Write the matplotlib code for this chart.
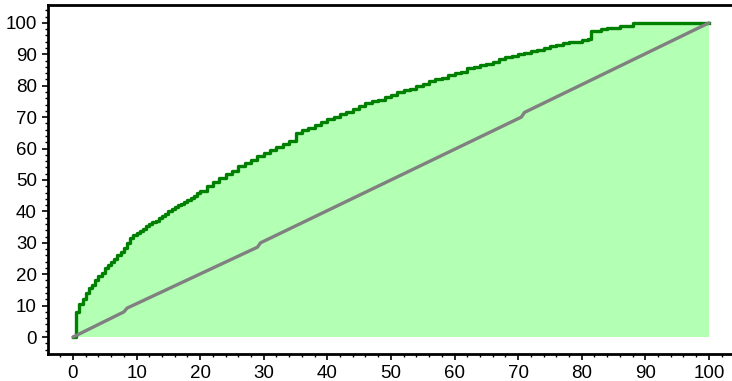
import numpy as np
import matplotlib
matplotlib.use("Agg")
import matplotlib.pyplot as plt
from matplotlib.ticker import MultipleLocator

# kumulatiivinen osuus (%), luettu kuvasta
osuus_x = [0, 0.5, 1, 1.5, 2, 2.5, 3, 3.5, 4, 4.5, 5, 5.5, 6, 6.5, 7, 7.5, 8, 8.5, 9, 9.5,
           10, 10.5, 11, 11.5, 12, 12.5, 13, 13.5, 14, 14.5, 15, 15.5, 16, 16.5, 17, 17.5, 18, 18.5, 19, 19.5,
           20, 21, 22, 23, 24, 25, 26, 27, 28, 29, 30, 31, 32, 33, 34, 35, 36, 37, 38, 39,
           40, 41, 42, 43, 44, 45, 46, 47, 48, 49, 50, 51, 52, 53, 54, 55, 56, 57, 58, 59,
           60, 61, 62, 63, 64, 65, 66, 67, 68, 69, 70, 71, 72, 73, 74, 75, 76, 77, 78, 79,
           80, 81, 81.5, 83, 84, 86, 88, 100]
osuus_y = [0, 8, 10.5, 12, 14, 15.5, 16.5, 18, 19.5, 20.5, 22, 23, 24, 25, 26, 27, 28.5, 30, 31.5, 32.5,
           33, 33.8, 34.5, 35.3, 36, 36.5, 37, 37.8, 38.5, 39.2, 40, 40.8, 41.5, 42, 42.5, 43, 43.5, 44.2, 45, 45.8,
           46.5, 48, 49.5, 50.5, 52, 53, 54.5, 55.5, 56.5, 57.5, 58.5, 59.5, 60.5, 61.5, 62.5, 65, 66, 66.5, 67.5, 68.5,
           69.5, 70, 71, 71.5, 72.5, 73.5, 74.5, 75, 75.5, 76.5, 77, 78, 78.5, 79, 80, 80.5, 81.5, 82, 82.5, 83.5,
           84, 84.5, 85.5, 86, 86.5, 87, 87.5, 88.5, 89, 89.5, 90, 90.5, 91, 91.5, 92, 92.5, 93, 93.5, 94, 94,
           94.5, 95, 97.5, 98, 98.5, 99, 100, 100]

# satunnainen vertailu (lähes suora)
satunnainen_x = [0, 8, 8.5, 29, 29.5, 70.5, 71, 100]
satunnainen_y = [0, 8, 9.2, 28.6, 30, 70, 71.5, 100]

plt.rcParams['font.family'] = ['Liberation Sans', 'DejaVu Sans']

fig = plt.figure(figsize=(7.32, 3.81), dpi=100)
ax = fig.add_axes([48 / 732, 27 / 381, (740 - 48) / 732, (354 - 5) / 381])

ax.fill_between(osuus_x, osuus_y, 0, step='post', color='#b3ffb3', linewidth=0)
ax.plot(osuus_x, osuus_y, drawstyle='steps-post', color='#008000', linewidth=2.4)
ax.plot(satunnainen_x, satunnainen_y, color='#808080', linewidth=2.4, solid_capstyle='round')

ax.set_xlim(-3.93, 104.9)
ax.set_ylim(-5.4, 105.7)

ax.xaxis.set_major_locator(MultipleLocator(10))
ax.xaxis.set_minor_locator(MultipleLocator(2))
ax.yaxis.set_major_locator(MultipleLocator(10))
ax.yaxis.set_minor_locator(MultipleLocator(2))
ax.tick_params(which='major', direction='out', length=4, width=1.2, labelsize=13.5, pad=4)
ax.tick_params(which='minor', direction='out', length=2.5, width=1)

for s in ax.spines.values():
    s.set_linewidth(2)

fig.savefig('out.png', dpi=100)
